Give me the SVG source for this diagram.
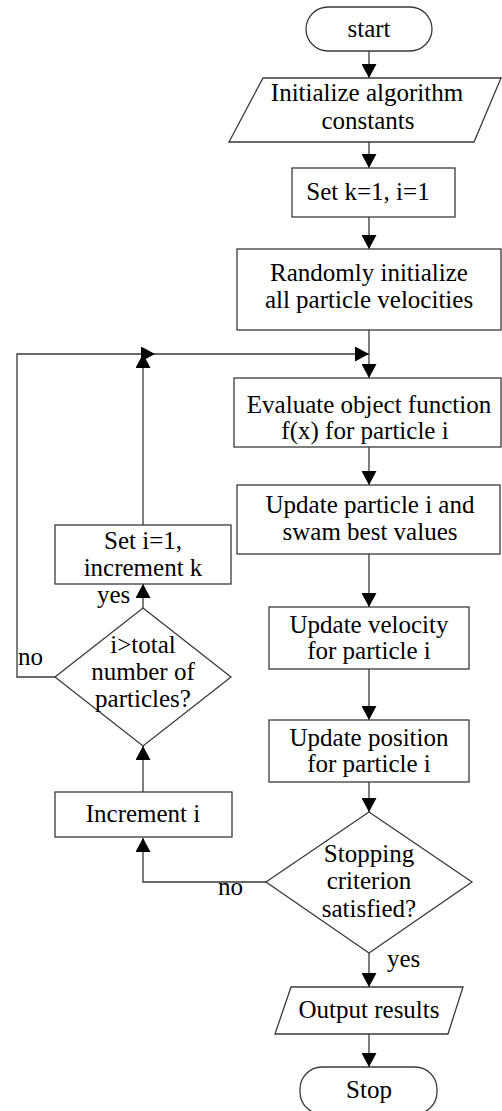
<svg xmlns="http://www.w3.org/2000/svg" width="502" height="1111" viewBox="0 0 502 1111">
  <style>
    .shape { fill: #ffffff; stroke: #3a3a3a; stroke-width: 1.3; }
    .conn { fill: none; stroke: #3a3a3a; stroke-width: 1.3; }
    text { font-family: "Liberation Serif", "Times New Roman", serif; font-size: 25px; fill: #000000; }
    .c { text-anchor: middle; }
  </style>
  <defs>
    <marker id="ah" viewBox="0 0 14 15" refX="14" refY="7.5" markerWidth="14" markerHeight="15" orient="auto" markerUnits="userSpaceOnUse">
      <path d="M0,0 L14,7.5 L0,15 z" fill="#000000"/>
    </marker>
  </defs>

  <rect width="502" height="1111" fill="#ffffff"/>

  <!-- connectors -->
  <g id="connectors">
    <path class="conn" d="M369,51 V78" marker-end="url(#ah)"/>
    <path class="conn" d="M369,142 V168" marker-end="url(#ah)"/>
    <path class="conn" d="M369,217 V249" marker-end="url(#ah)"/>
    <path class="conn" d="M369,330 V378" marker-end="url(#ah)"/>
    <path class="conn" d="M369,447 V485" marker-end="url(#ah)"/>
    <path class="conn" d="M369,554 V607" marker-end="url(#ah)"/>
    <path class="conn" d="M369,669 V720" marker-end="url(#ah)"/>
    <path class="conn" d="M369,782 V812" marker-end="url(#ah)"/>
    <path class="conn" d="M369,953 V987" marker-end="url(#ah)"/>
    <path class="conn" d="M369,1034 V1067" marker-end="url(#ah)"/>
    <!-- stopping criterion: no -->
    <path class="conn" d="M266,882 H143 V838" marker-end="url(#ah)"/>
    <path class="conn" d="M143,792 V746" marker-end="url(#ah)"/>
    <!-- particle count check: yes -->
    <path class="conn" d="M143,608 V584" marker-end="url(#ah)"/>
    <path class="conn" d="M143,525 V354" marker-end="url(#ah)"/>
    <!-- particle count check: no, back to the loop head -->
    <path class="conn" d="M55,677 H17 V354 H155" marker-end="url(#ah)"/>
    <path class="conn" d="M155,354 H369" marker-end="url(#ah)"/>
  </g>

  <g id="start">
    <rect class="shape" x="306" y="7" width="126" height="44" rx="22" ry="22"/>
    <text class="c" x="369" y="37">start</text>
  </g>

  <g id="init-constants">
    <polygon class="shape" points="263,78 501,78 474,142 229,142"/>
    <text class="c" x="367" y="101">Initialize algorithm</text>
    <text class="c" x="368" y="129">constants</text>
  </g>

  <g id="set-k-i">
    <rect class="shape" x="292" y="168" width="163" height="49"/>
    <text class="c" x="368" y="200">Set k=1, i=1</text>
  </g>

  <g id="init-velocities">
    <rect class="shape" x="237" y="249" width="264" height="81"/>
    <text class="c" x="369" y="281">Randomly initialize</text>
    <text class="c" x="369" y="308">all particle velocities</text>
  </g>

  <g id="evaluate">
    <rect class="shape" x="234" y="378" width="267" height="69"/>
    <text class="c" x="369" y="413">Evaluate object function</text>
    <text class="c" x="365" y="439">f(x) for particle i</text>
  </g>

  <g id="update-best">
    <rect class="shape" x="237" y="485" width="263" height="69"/>
    <text class="c" x="370" y="513">Update particle i and</text>
    <text class="c" x="370" y="540">swam best values</text>
  </g>

  <g id="update-velocity">
    <rect class="shape" x="269" y="607" width="200" height="62"/>
    <text class="c" x="369" y="633">Update velocity</text>
    <text class="c" x="369" y="659">for particle i</text>
  </g>

  <g id="update-position">
    <rect class="shape" x="269" y="720" width="200" height="62"/>
    <text class="c" x="369" y="746">Update position</text>
    <text class="c" x="369" y="772">for particle i</text>
  </g>

  <g id="stopping-check">
    <polygon class="shape" points="369,812 472,882 369,953 266,882"/>
    <text class="c" x="369" y="862">Stopping</text>
    <text class="c" x="369" y="889">criterion</text>
    <text class="c" x="369" y="917">satisfied?</text>
  </g>

  <g id="output">
    <polygon class="shape" points="291,987 463,987 448,1034 275,1034"/>
    <text class="c" x="369" y="1018">Output results</text>
  </g>

  <g id="stop">
    <rect class="shape" x="300" y="1067" width="137" height="47" rx="22" ry="22"/>
    <text class="c" x="369" y="1098">Stop</text>
  </g>

  <g id="increment-i">
    <rect class="shape" x="55" y="792" width="177" height="45"/>
    <text class="c" x="143" y="822">Increment i</text>
  </g>

  <g id="particle-check">
    <polygon class="shape" points="143,608 231,677 143,746 55,677"/>
    <text class="c" x="143" y="653">i&gt;total</text>
    <text class="c" x="143" y="680">number of</text>
    <text class="c" x="143" y="707">particles?</text>
  </g>

  <g id="reset-i-increment-k">
    <rect class="shape" x="55" y="525" width="176" height="59"/>
    <text class="c" x="143" y="549">Set i=1,</text>
    <text class="c" x="143" y="576">increment k</text>
  </g>

  <g id="labels">
    <text x="97" y="603">yes</text>
    <text x="18" y="665">no</text>
    <text x="218" y="895">no</text>
    <text x="387" y="967">yes</text>
  </g>
</svg>
